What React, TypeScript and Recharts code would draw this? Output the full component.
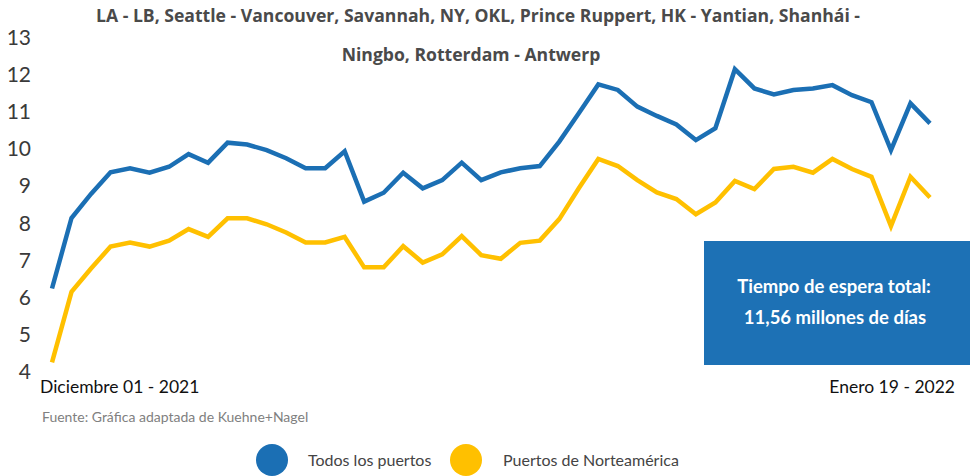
import React from 'react';
import { LineChart, Line, XAxis, YAxis } from 'recharts';

// weekly points, Dec 01 2021 -> Jan 19 2022
const todosLosPuertos = [
    6.25, 8.15, 8.8, 9.38, 9.49, 9.37, 9.53, 9.87, 9.64, 10.18,
    10.13, 9.98, 9.76, 9.49, 9.49, 9.95, 8.59, 8.83, 9.37, 8.95,
    9.17, 9.64, 9.17, 9.38, 9.49, 9.55, 10.21, 10.97, 11.75, 11.6,
    11.15, 10.9, 10.67, 10.25, 10.57, 12.16, 11.64, 11.48, 11.6, 11.64,
    11.73, 11.46, 11.27, 9.98, 11.24, 10.7,
];

const puertosNorteamerica = [
    4.26, 6.16, 6.79, 7.38, 7.49, 7.38, 7.54, 7.85, 7.64, 8.14,
    8.14, 7.98, 7.76, 7.49, 7.49, 7.64, 6.82, 6.82, 7.39, 6.95,
    7.17, 7.66, 7.15, 7.05, 7.48, 7.54, 8.12, 8.95, 9.74, 9.55,
    9.17, 8.84, 8.66, 8.25, 8.57, 9.15, 8.93, 9.47, 9.53, 9.37,
    9.74, 9.47, 9.26, 7.93, 9.26, 8.7,
];

const xTickLabels = ['Diciembre 01 - 2021', 'Enero 19 - 2022'];
const yTicks = [4, 5, 6, 7, 8, 9, 10, 11, 12, 13];

const BLUE = '#1b6fb4';
const YELLOW = '#ffc000';
const FONT = 'Lato, "Open Sans", sans-serif';
const TITLE_FONT = '"Open Sans", sans-serif';

const data = todosLosPuertos.map((v, i) => ({
    idx: i,
    todos: v,
    norte: puertosNorteamerica[i],
}));

const lastIdx = data.length - 1;

const YTick = ({ y, payload }: any) => (
    <text x={31} y={y} dy={7} textAnchor="end" fontSize={21} fill="#3a3a3a" fontFamily={FONT}>
        {payload.value}
    </text>
);

const XTick = ({ x, y, payload }: any) => {
    const first = payload.value === 0;
    return (
        <text
            x={first ? x - 12 : x + 25}
            y={y}
            dy={13}
            textAnchor={first ? 'start' : 'end'}
            fontSize={17.5}
            fill="#111"
            fontFamily={FONT}
        >
            {first ? xTickLabels[0] : xTickLabels[1]}
        </text>
    );
};

export default function App() {
    return (
        <div style={{ position: 'absolute', left: 0, top: 0, width: 970, height: 476, background: '#fff', fontFamily: FONT }}>
            <div style={{ position: 'absolute', left: 0, top: 3, width: 956, textAlign: 'center', fontWeight: 700, fontSize: 17.6, color: '#4a4a4a', fontFamily: TITLE_FONT }}>
                LA - LB, Seattle - Vancouver, Savannah, NY, OKL, Prince Ruppert, HK - Yantian, Shanhái -
            </div>
            <div style={{ position: 'absolute', left: 0, top: 42, width: 942, textAlign: 'center', fontWeight: 700, fontSize: 17.6, color: '#4a4a4a', fontFamily: TITLE_FONT }}>
                Ningbo, Rotterdam - Antwerp
            </div>

            <LineChart width={970} height={476} data={data} margin={{ top: 38, right: 40, bottom: 74, left: 0 }}>
                <XAxis
                    dataKey="idx"
                    axisLine={false}
                    tickLine={false}
                    ticks={[0, lastIdx]}
                    interval={0}
                    tick={<XTick />}
                    height={30}
                />
                <YAxis
                    domain={[4, 13]}
                    ticks={yTicks}
                    axisLine={false}
                    tickLine={false}
                    width={52}
                    tick={<YTick />}
                    interval={0}
                />
                <Line
                    dataKey="todos"
                    name="Todos los puertos"
                    stroke={BLUE}
                    strokeWidth={4.5}
                    dot={false}
                    isAnimationActive={false}
                />
                <Line
                    dataKey="norte"
                    name="Puertos de Norteamérica"
                    stroke={YELLOW}
                    strokeWidth={4.5}
                    dot={false}
                    isAnimationActive={false}
                />
            </LineChart>

            <div style={{ position: 'absolute', left: 42, top: 408, fontSize: 14, color: '#808080' }}>
                Fuente: Gráfica adaptada de Kuehne+Nagel
            </div>

            <div
                style={{
                    position: 'absolute',
                    left: 704,
                    top: 241,
                    width: 266,
                    height: 124,
                    background: '#1d71b5',
                    color: '#fff',
                    fontWeight: 700,
                    fontSize: 18.5,
                    textAlign: 'center',
                }}
            >
                <div style={{ position: 'absolute', left: 0, top: 34, width: 260 }}>Tiempo de espera total:</div>
                <div style={{ position: 'absolute', left: 0, top: 65, width: 262 }}>11,56 millones de días</div>
            </div>

            <div style={{ position: 'absolute', left: 0, top: 444, width: 970, height: 32, fontSize: 16, color: '#444' }}>
                <span style={{ position: 'absolute', left: 256, top: 0, width: 32, height: 32, borderRadius: 16, background: BLUE }} />
                <span style={{ position: 'absolute', left: 308, top: 6 }}>Todos los puertos</span>
                <span style={{ position: 'absolute', left: 450, top: 0, width: 32, height: 32, borderRadius: 16, background: YELLOW }} />
                <span style={{ position: 'absolute', left: 503, top: 6 }}>Puertos de Norteamérica</span>
            </div>
        </div>
    );
}
